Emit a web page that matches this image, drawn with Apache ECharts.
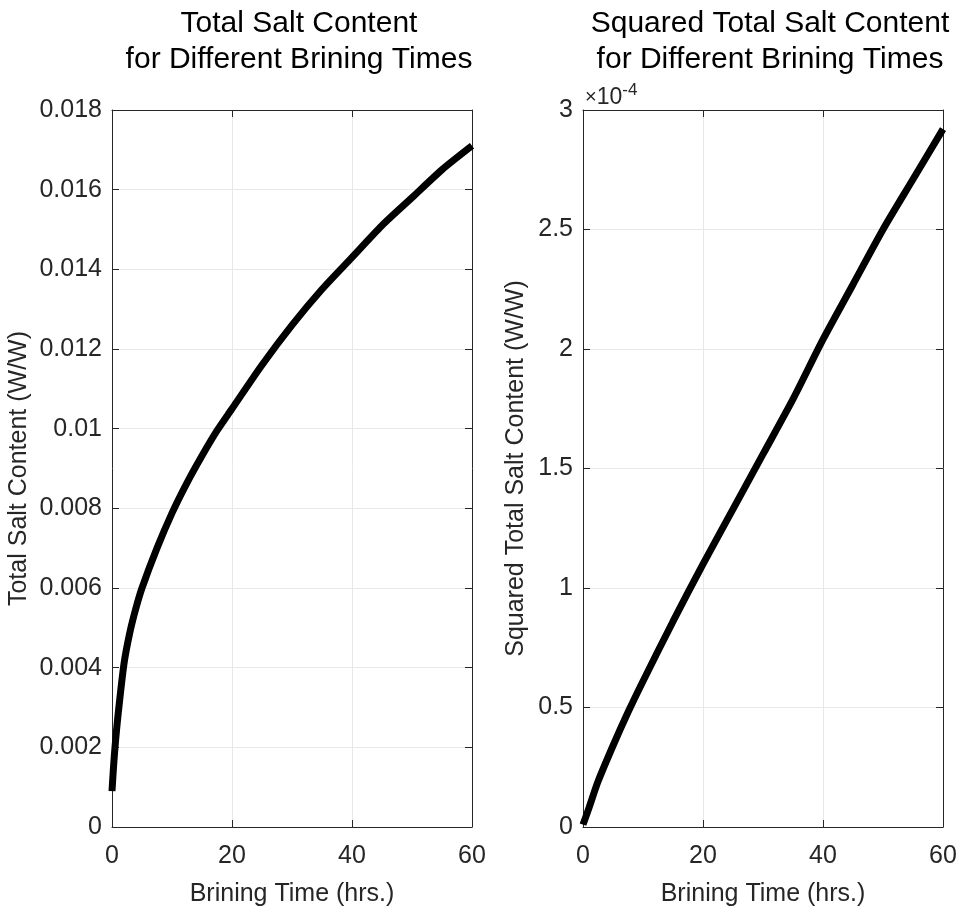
<!DOCTYPE html>
<html lang="en">
<head>
<meta charset="UTF-8">
<title>Salt Content</title>
<script src="https://cdn.jsdelivr.net/npm/echarts@6/dist/echarts.min.js"></script>
<style>
body{margin:0;padding:0;background:#fff}
#main{width:966px;height:912px}
</style>
</head>
<body>
<div id="main"></div>
<script type="text/javascript">
// brining time (hrs.) and total salt content
var saltTimes = [0, 0.25, 0.5, 1, 2, 3, 4, 5, 7.5, 10, 12.5, 15, 17.5, 20, 25, 30, 35, 40, 45, 50, 55, 60];
var saltValues = [0.0009, 0.0015, 0.0020, 0.0028, 0.0041, 0.0049, 0.0055, 0.0060, 0.0070, 0.00788, 0.00864,
                  0.00932, 0.00995, 0.0105, 0.0116, 0.0126, 0.0135, 0.0143, 0.0151, 0.0158, 0.0165, 0.0171];
// squared salt content, in units of 1e-4
var sqTimes = [0, 1, 2.5, 5, 7.5, 10, 15, 20, 25, 30, 35, 40, 45, 50, 55, 60];
var sqValues = [0.01, 0.08, 0.19, 0.34, 0.48, 0.61, 0.86, 1.1, 1.33, 1.56, 1.79, 2.04, 2.27, 2.5, 2.71, 2.92];
var xTicks = [0, 20, 40, 60];

var FONT = 'Liberation Sans';
var axisCol = '#262626';
var gridCol = '#e8e8e8';

function pairs(xs, ys) {
    return xs.map(function (x, i) { return [x, ys[i]]; });
}

var chart = echarts.init(document.getElementById('main'));

function xAx(gi, top) {
    return {
        gridIndex: gi, type: 'value', min: xTicks[0], max: xTicks[xTicks.length - 1], interval: 20,
        position: top ? 'top' : 'bottom',
        name: top ? '' : 'Brining Time (hrs.)', nameLocation: 'middle', nameGap: 55,
        nameTextStyle: {fontFamily: FONT, fontSize: 25, color: axisCol},
        axisLine: {show: true, onZero: false, lineStyle: {color: axisCol, width: 1}},
        axisTick: {show: true, inside: true, length: 7, lineStyle: {color: axisCol}},
        axisLabel: {show: !top, fontFamily: FONT, fontSize: 25, color: axisCol, margin: 17},
        splitLine: {show: !top, lineStyle: {color: gridCol, width: 1}}
    };
}
function yAx(gi, right, max, interval, name) {
    return {
        gridIndex: gi, type: 'value', min: 0, max: max, interval: interval,
        position: right ? 'right' : 'left',
        name: right ? '' : name, nameLocation: 'middle', nameGap: right ? 0 : (gi === 0 ? 80 : 54),
        nameTextStyle: {fontFamily: FONT, fontSize: 25, color: axisCol},
        axisLine: {show: true, onZero: false, lineStyle: {color: axisCol, width: 1}},
        axisTick: {show: true, inside: true, length: 7, lineStyle: {color: axisCol}},
        axisLabel: {show: !right, fontFamily: FONT, fontSize: 25, color: axisCol, margin: 10},
        splitLine: {show: !right, lineStyle: {color: gridCol, width: 1}}
    };
}

var titleStyle = {fontFamily: FONT, fontSize: 30, fontWeight: 'normal', color: '#000', lineHeight: 36};

var option = {
    backgroundColor: '#fff',
    animation: false,
    title: [{
        text: 'Total Salt Content\nfor Different Brining Times',
        left: 294, top: 1, textAlign: 'center', textStyle: titleStyle
    }, {
        text: 'Squared Total Salt Content\nfor Different Brining Times',
        left: 765, top: 1, textAlign: 'center', textStyle: titleStyle
    }],
    grid: [
        {left: 112, top: 110, width: 360, height: 721},
        {left: 583, top: 110, width: 360, height: 721}
    ],
    xAxis: [xAx(0, false), xAx(1, false), xAx(0, true), xAx(1, true)],
    yAxis: [
        yAx(0, false, 0.018, 0.002, 'Total Salt Content (W/W)'),
        yAx(1, false, 3, 0.5, 'Squared Total Salt Content (W/W)'),
        yAx(0, true, 0.018, 0.002, ''),
        yAx(1, true, 3, 0.5, '')
    ],
    graphic: [{
        type: 'text', left: 585, top: 82,
        style: {
            text: '{a|×}{c|10}{b|-4}',
            rich: {
                a: {fontFamily: FONT, fontSize: 20, fill: axisCol},
                c: {fontFamily: FONT, fontSize: 23, fill: axisCol},
                b: {fontFamily: FONT, fontSize: 17, fill: axisCol, verticalAlign: 'top', padding: [0, 0, 14, 0]}
            }
        }
    }],
    series: [{
        type: 'line', xAxisIndex: 0, yAxisIndex: 0, smooth: 0.25, showSymbol: false,
        lineStyle: {color: '#000', width: 7},
        data: pairs(saltTimes, saltValues)
    }, {
        type: 'line', xAxisIndex: 1, yAxisIndex: 1, smooth: 0.25, showSymbol: false,
        lineStyle: {color: '#000', width: 7},
        data: pairs(sqTimes, sqValues)
    }]
};

chart.setOption(option);
</script>
</body>
</html>
